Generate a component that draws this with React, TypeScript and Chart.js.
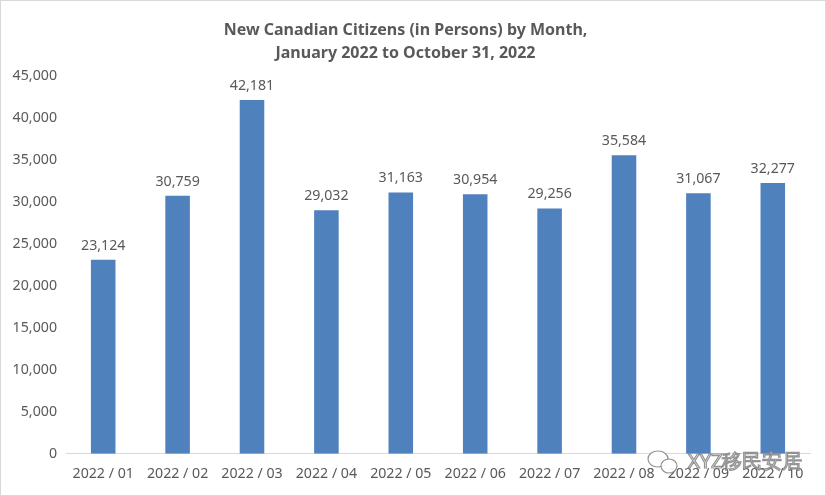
import React, { useEffect, useRef } from "react";
import { Chart, registerables } from "chart.js";

Chart.register(...registerables);

const categories = ["2022 / 01", "2022 / 02", "2022 / 03", "2022 / 04", "2022 / 05", "2022 / 06", "2022 / 07", "2022 / 08", "2022 / 09", "2022 / 10"];
const citizens = [23124, 30759, 42181, 29032, 31163, 30954, 29256, 35584, 31067, 32277];
const titleLines = ["New Canadian Citizens (in Persons) by Month,", "January 2022 to October 31, 2022"];
const watermark = "XYZ移民安居";

const FONT = "'Noto Sans', sans-serif";
const TEXT = "#595959";
const FS = 14.2;

const labelPlugin = {
  id: "barLabels",
  afterDatasetsDraw(chart: any) {
    const ctx = chart.ctx;
    const meta = chart.getDatasetMeta(0);
    ctx.save();
    ctx.font = `${FS}px ${FONT}`;
    ctx.fillStyle = TEXT;
    ctx.textAlign = "center";
    ctx.textBaseline = "bottom";
    meta.data.forEach((bar: any, i: number) => {
      ctx.fillText(citizens[i].toLocaleString("en-US"), bar.x, bar.y - 7);
    });
    ctx.restore();
  },
  afterDraw(chart: any) {
    const ctx = chart.ctx;
    ctx.save();
    ctx.font = `20px ${FONT}`;
    ctx.textAlign = "left";
    ctx.textBaseline = "middle";
    ctx.lineWidth = 1.2;
    ctx.strokeStyle = "rgba(120,120,120,0.8)";
    ctx.fillStyle = "rgba(255,255,255,0.9)";
    const x = 687, y = 461;
    ctx.beginPath();
    ctx.ellipse(x - 30, y - 3, 10, 8, 0, 0, Math.PI * 2);
    ctx.fill();
    ctx.stroke();
    ctx.beginPath();
    ctx.ellipse(x - 19, y + 4, 8, 7, 0, 0, Math.PI * 2);
    ctx.fill();
    ctx.stroke();
    ctx.fillText(watermark, x, y);
    ctx.strokeText(watermark, x, y);
    ctx.restore();
  },
};

export default function App() {
  const ref = useRef<HTMLCanvasElement>(null);
  useEffect(() => {
    if (!ref.current) return;
    const chart = new Chart(ref.current, {
      type: "bar",
      data: {
        labels: categories,
        datasets: [
          {
            data: citizens,
            backgroundColor: "#4F81BD",
            categoryPercentage: 0.33,
            barPercentage: 1,
          },
        ],
      },
      options: {
        animation: false,
        responsive: false,
        layout: { padding: { left: 0, right: 15, top: 0, bottom: 1 } },
        plugins: {
          legend: { display: false },
          tooltip: { enabled: false },
          title: {
            display: true,
            text: titleLines,
            color: TEXT,
            font: { family: FONT, size: 16, weight: "bold", lineHeight: 1.45 },
            padding: { top: 18, bottom: 11 },
          },
        },
        scales: {
          x: {
            grid: { display: false, drawTicks: false },
            border: { display: true, color: "#d9d9d9", width: 1 },
            ticks: { color: TEXT, font: { family: FONT, size: FS, lineHeight: 1.0 }, padding: 13, maxRotation: 0, autoSkip: false },
          },
          y: {
            min: 0,
            max: 45000,
            grid: { display: false, drawTicks: false },
            border: { display: false },
            ticks: {
              stepSize: 5000,
              color: TEXT,
              font: { family: FONT, size: FS },
              padding: 9,
              callback: (v: any) => Number(v).toLocaleString("en-US"),
            },
            afterFit: (s: any) => {
              s.width = 65;
            },
          },
        },
      },
      plugins: [labelPlugin],
    });
    return () => chart.destroy();
  }, []);
  return (
    <div
      style={{
        position: "absolute",
        left: 0,
        top: 0,
        width: 826,
        height: 496,
        boxSizing: "border-box",
        border: "1px solid #d9d9d9",
        background: "#fff",
      }}
    >
      <canvas ref={ref} width={824} height={494} style={{ display: "block" }} />
    </div>
  );
}
